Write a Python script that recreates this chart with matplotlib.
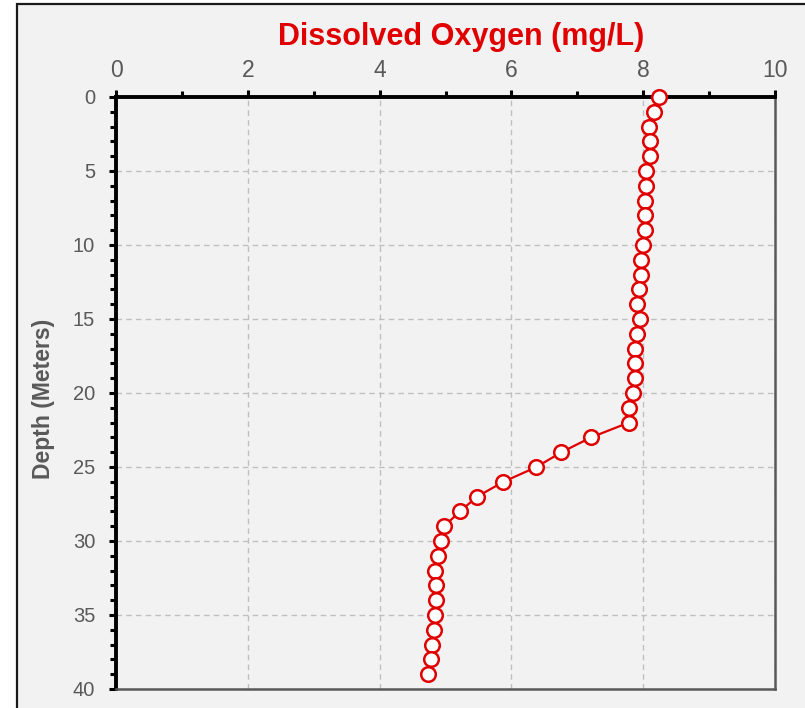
import matplotlib
matplotlib.use("Agg")
import matplotlib.pyplot as plt
from matplotlib.patches import Rectangle
from matplotlib.ticker import MultipleLocator

depth = list(range(0, 40))
oxygen = [8.24, 8.16, 8.09, 8.11, 8.11, 8.04, 8.04, 8.02, 8.02, 8.02,
          7.99, 7.97, 7.97, 7.94, 7.90, 7.95, 7.91, 7.88, 7.88, 7.88,
          7.84, 7.78, 7.78, 7.21, 6.76, 6.38, 5.88, 5.48, 5.22, 4.98,
          4.93, 4.89, 4.84, 4.85, 4.85, 4.84, 4.83, 4.80, 4.78, 4.73]
x_ticks = [0, 2, 4, 6, 8, 10]
y_ticks = [0, 5, 10, 15, 20, 25, 30, 35, 40]

plt.rcParams['font.family'] = ['Liberation Sans', 'DejaVu Sans']

W, H = 805, 708
fig = plt.figure(figsize=(W / 100, H / 100), dpi=100, facecolor='white')

bg = Rectangle((16.5 / W, -0.05), 1.2, 1 - 4 / H + 0.05, transform=fig.transFigure,
               facecolor='#f2f2f2', edgecolor='#1a1a1a', linewidth=1.6, zorder=-10)
fig.patches.append(bg)

ax = fig.add_axes([116 / W, 1 - 689 / H, (775 - 116) / W, (689 - 97) / H])
ax.set_facecolor('#f2f2f2')
ax.set_zorder(5)

red = '#e00000'
ax.plot(oxygen, depth, color=red, linewidth=1.6, marker='o', markersize=10.5,
        markerfacecolor='white', markeredgecolor=red, markeredgewidth=1.8,
        zorder=5, clip_on=False)

ax.set_xlim(0, 10)
ax.set_ylim(40, 0)
ax.xaxis.tick_top()
ax.xaxis.set_label_position('top')
ax.set_xticks(x_ticks)
ax.set_yticks(y_ticks)
ax.xaxis.set_minor_locator(MultipleLocator(1))
ax.yaxis.set_minor_locator(MultipleLocator(1))

ax.tick_params(axis='x', which='major', direction='out', length=5, width=2.2,
               colors='black', labelcolor='#595959', pad=5.8)
ax.tick_params(axis='x', which='minor', direction='out', length=4, width=2.2, colors='black')
ax.tick_params(axis='y', which='major', direction='out', length=5, width=2.2,
               colors='black', labelcolor='#595959', labelsize=14.5, pad=10)
ax.tick_params(axis='y', which='minor', direction='out', length=4, width=2.2, colors='black')

for lab in ax.get_xticklabels():
    lab.set_fontfamily(['Liberation Sans Narrow', 'Liberation Sans'])
    lab.set_fontsize(16.5)

ax.grid(True, which='major', linestyle=(0, (4, 3)), color='#bfbfbf', linewidth=1.0)
ax.set_axisbelow(True)

ax.spines['top'].set_linewidth(2.8)
ax.spines['top'].set_color('black')
ax.spines['left'].set_linewidth(2.8)
ax.spines['left'].set_color('black')
ax.spines['right'].set_linewidth(1.8)
ax.spines['right'].set_color('#595959')
ax.spines['bottom'].set_linewidth(1.8)
ax.spines['bottom'].set_color('#595959')

fig.text(461 / W, 1 - 45 / H, 'Dissolved Oxygen (mg/L)', color=red, fontsize=22,
         fontweight='bold', ha='center', va='baseline')
ax.set_ylabel('Depth (Meters)', color='#595959', fontsize=16.5, fontweight='bold')
ax.yaxis.set_label_coords(-0.093, 0.49)

fig.savefig('out.png', dpi=100, facecolor='white')
